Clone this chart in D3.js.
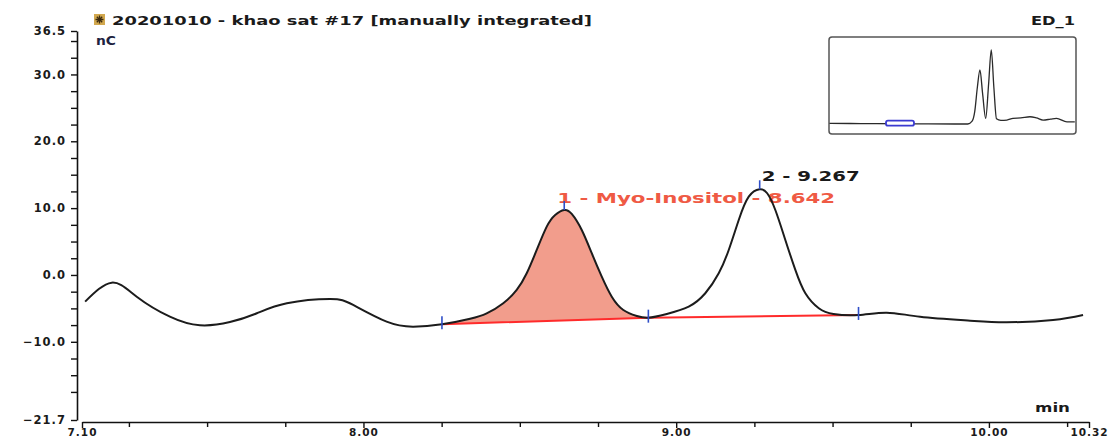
<!DOCTYPE html>
<html><head><meta charset="utf-8">
<script src="https://cdn.jsdelivr.net/npm/d3@7"></script>
<style>
html,body{margin:0;padding:0;background:#fff;}
svg{display:block;}
</style></head><body>
<svg id="chart" width="1117" height="442"></svg>
<script>
// ED_1 trace: retention time (min) and detector signal (nC)
const timeMin = [7.110, 7.195, 7.275, 7.381, 7.477, 7.573, 7.659, 7.755, 7.893, 7.967,
  8.074, 8.159, 8.251, 8.341, 8.394, 8.447, 8.490, 8.522, 8.554, 8.586, 8.613, 8.642,
  8.666, 8.698, 8.730, 8.762, 8.794, 8.831, 8.874, 8.911, 8.970, 9.040, 9.093, 9.136,
  9.168, 9.200, 9.232, 9.267, 9.291, 9.317, 9.349, 9.381, 9.413, 9.456, 9.503, 9.583,
  9.673, 9.780, 9.940, 10.057, 10.205, 10.301];
const signalNC = [-3.99, -1.15, -3.25, -6.24, -7.53, -7.05, -5.73, -4.23, -3.59, -4.49,
  -6.99, -7.73, -7.38, -6.55, -5.75, -4.23, -2.24, 0.25, 3.74, 7.23, 8.98, 9.72,
  9.13, 6.73, 3.25, -0.25, -3.25, -5.24, -6.13, -6.39, -5.83, -4.74, -2.74, 0.25,
  3.74, 8.23, 11.71, 12.82, 12.22, 9.72, 5.24, 0.75, -2.74, -4.98, -5.83, -5.98,
  -5.64, -6.24, -6.84, -7.08, -6.73, -5.98];

// Integration baseline (start, valley, end)
const baselineTimes = [8.251, 8.911, 9.583];
const baselineValues = [-7.38, -6.39, -5.98];

// Identified peaks
const peakNumbers = [1, 2];
const peakNames = ["Myo-Inositol", ""];
const peakTimes = [8.642, 9.267];

// Axis ticks
const xTickValues = [7.10, 8.00, 9.00, 10.00, 10.32];
const yTickValues = [36.5, 30.0, 20.0, 10.0, 0.0, -10.0, -21.7];

// Whole run, shown in the overview box
const overviewTimes = [0.6, 3, 6, 9, 12, 15, 16.5, 17.0, 17.3, 17.6, 17.9, 18.2, 18.56,
  18.9, 19.2, 19.5, 19.8, 20.3, 21.0, 21.7, 22.6, 23.65, 24.4, 25.15, 26.0, 26.7, 27.9, 28.8];
const overviewValues = [2, 1, 0, -2, -3, -5, -5, 30, 150, 450, 670, 380, 65,
  500, 920, 450, 60, 40, 44, 65, 70, 85, 70, 44, 55, 65, 22, 22];

const svg = d3.select("#chart");
const FONT = "'DejaVu Sans', Verdana, sans-serif";
const smooth = d3.curveNatural;

const x = d3.scaleLinear().domain([7.10, 10.32]).range([82, 1089]);
const y = d3.scaleLinear().domain([-21.7, 36.5]).range([420, 31]);
const pts = timeMin.map((t, i) => ({t, v: signalNC[i]}));
const baseAt = d3.scaleLinear().domain(baselineTimes).range(baselineValues);

// ---- header texts ----
const icon = svg.append("g").attr("transform", "translate(94,14)");
icon.append("rect").attr("width", 11).attr("height", 11).attr("fill", "#d2a84e");
icon.append("path").attr("d", "M5.5,1.5V9.5M1.5,5.5H9.5M2.8,2.8L8.2,8.2M8.2,2.8L2.8,8.2")
  .attr("stroke", "#3a2a10").attr("stroke-width", 1.3);

function txt(s, px, py, opts) {
  const t = svg.append("text").attr("x", px).attr("y", py).text(s)
    .attr("font-family", FONT).attr("font-weight", "bold")
    .attr("font-size", opts.size || 12).attr("fill", opts.fill || "#1a1a1a");
  if (opts.len) t.attr("textLength", opts.len).attr("lengthAdjust", "spacingAndGlyphs");
  if (opts.anchor) t.attr("text-anchor", opts.anchor);
  return t;
}
txt("20201010 - khao sat #17 [manually integrated]", 112, 25, {size: 12.5, len: 480});
txt("nC", 96, 45, {size: 12.5, len: 20, fill: "#1d2240"});
txt("ED_1", 1031, 25, {size: 12.5, len: 44});
txt("min", 1035, 412, {size: 12, len: 35});

// ---- axes ----
const AX_Y = 422;
svg.append("g").attr("transform", "translate(77,0)")
  .call(d3.axisLeft(y).tickValues(yTickValues).tickFormat(d3.format(".1f"))
    .tickSize(6).tickSizeOuter(0).tickPadding(5));
const yMinor = d3.range(-20, 36, 2.5).filter(v => Math.abs(v % 10) > 1e-9);
svg.append("g").attr("transform", "translate(77,0)")
  .call(d3.axisLeft(y).tickValues(yMinor).tickFormat("").tickSize(6))
  .call(g => g.select(".domain").remove());

const xAxisG = svg.append("g").attr("transform", `translate(0,${AX_Y})`)
  .call(d3.axisBottom(x).tickValues(xTickValues).tickFormat(d3.format(".2f"))
    .tickSize(6).tickSizeOuter(0).tickPadding(1));
const xMinor = d3.range(7.25, 10.3, 0.25).filter(v => Math.abs(v - Math.round(v)) > 1e-9);
svg.append("g").attr("transform", `translate(0,${AX_Y})`)
  .call(d3.axisBottom(x).tickValues(xMinor).tickFormat("").tickSize(5))
  .call(g => g.select(".domain").remove());

svg.selectAll(".domain").attr("stroke", "#111").attr("stroke-width", 1.6);
svg.selectAll(".tick line").attr("stroke", "#111").attr("stroke-width", 1.4);
svg.selectAll(".tick text").attr("font-family", FONT).attr("font-weight", "bold")
  .attr("font-size", 11.5).attr("fill", "#1a1a1a").attr("letter-spacing", "1px");
xAxisG.selectAll(".tick text").attr("font-size", 10.5).attr("dy", "0.68em");

// ---- peak labels (drawn beneath the trace) ----
const labelLayout = [{dx: -7, dy: -7, fill: "#ef5a44", len: 278},
                     {dx: 2, dy: -8, fill: "#1a1a1a", len: 98}];
peakTimes.forEach((rt, i) => {
  const v = signalNC[timeMin.indexOf(rt)];
  const name = peakNames[i] ? ` - ${peakNames[i]}` : "";
  const L = labelLayout[i];
  txt(`${peakNumbers[i]}${name} - ${rt.toFixed(3)}`, x(rt) + L.dx, y(v) + L.dy,
    {size: 14, len: L.len, fill: L.fill});
});

// ---- integrated area of peak 1 ----
svg.append("clipPath").attr("id", "p1clip").append("rect")
  .attr("x", x(baselineTimes[0])).attr("y", 0)
  .attr("width", x(baselineTimes[1]) - x(baselineTimes[0])).attr("height", 442);
svg.append("path").datum(pts).attr("clip-path", "url(#p1clip)")
  .attr("fill", "#f29d8c")
  .attr("d", d3.area().curve(smooth)
    .x(d => x(d.t)).y0(d => y(baseAt(d.t))).y1(d => y(d.v)));

// ---- baseline ----
svg.append("path").datum(baselineTimes.map((t, i) => ({t, v: baselineValues[i]})))
  .attr("fill", "none").attr("stroke", "#ff2b2b").attr("stroke-width", 2)
  .attr("d", d3.line().x(d => x(d.t)).y(d => y(d.v)));

// ---- trace ----
svg.append("path").datum(pts).attr("fill", "none").attr("stroke", "#1c1c1c")
  .attr("stroke-width", 2).attr("stroke-linejoin", "round")
  .attr("d", d3.line().curve(smooth).x(d => x(d.t)).y(d => y(d.v)));

// ---- peak delimiters and apex marks ----
baselineTimes.forEach((t, i) => {
  const yy = y(baselineValues[i]);
  svg.append("line").attr("x1", x(t)).attr("x2", x(t)).attr("y1", yy - 8).attr("y2", yy + 5)
    .attr("stroke", "#2f4fc8").attr("stroke-width", 1.6);
});
peakTimes.forEach(rt => {
  const yy = y(signalNC[timeMin.indexOf(rt)]);
  svg.append("line").attr("x1", x(rt)).attr("x2", x(rt)).attr("y1", yy - 9).attr("y2", yy)
    .attr("stroke", "#2f4fc8").attr("stroke-width", 1.6);
});

// ---- overview box ----
const xi = d3.scaleLinear().domain([0.55, 28.94]).range([829, 1076]);
const yi = d3.scaleLinear().domain([-130, 1080]).range([134, 37]);
svg.append("rect").attr("x", 829).attr("y", 37).attr("width", 247).attr("height", 97)
  .attr("rx", 3).attr("fill", "#fff").attr("stroke", "#555").attr("stroke-width", 1.5);
svg.append("path").datum(overviewTimes.map((t, i) => ({t, v: overviewValues[i]})))
  .attr("fill", "none").attr("stroke", "#2a2a2a").attr("stroke-width", 1.3)
  .attr("d", d3.line().curve(d3.curveMonotoneX).x(d => xi(d.t)).y(d => yi(d.v)));
svg.append("rect")
  .attr("x", xi(x.domain()[0])).attr("y", yi(y.domain()[1]))
  .attr("width", xi(x.domain()[1]) - xi(x.domain()[0]))
  .attr("height", Math.max(5, yi(y.domain()[0]) - yi(y.domain()[1])))
  .attr("rx", 2).attr("fill", "#fff").attr("stroke", "#3a3ad0").attr("stroke-width", 1.8);
</script>
</body></html>
